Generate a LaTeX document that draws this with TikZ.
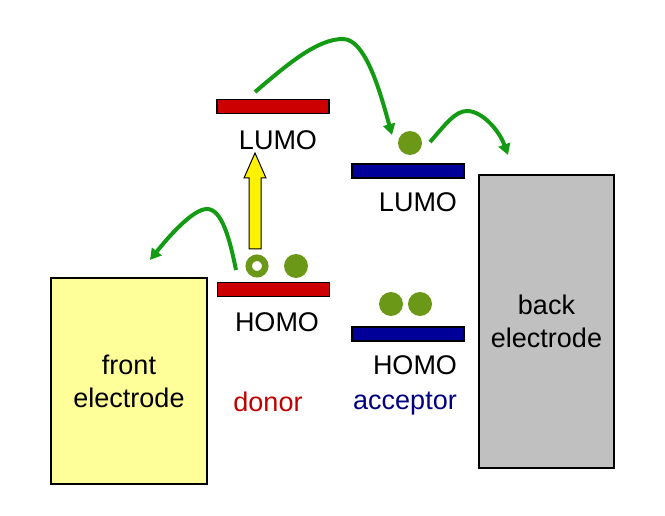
\documentclass[tikz,border=0pt]{standalone}
\usepackage{fontspec}
\setmainfont{Liberation Sans}
\usetikzlibrary{arrows.meta}
\definecolor{barred}{RGB}{204,0,0}
\definecolor{barblue}{RGB}{0,0,153}
\definecolor{dotgreen}{RGB}{108,152,24}
\definecolor{arrgreen}{RGB}{20,155,20}
\definecolor{frontyellow}{RGB}{255,255,153}
\definecolor{backgray}{RGB}{192,192,192}
\definecolor{donortext}{RGB}{192,0,0}
\definecolor{acctext}{RGB}{0,0,128}
\tikzset{
  level/.style={draw=black, line width=1.5pt, inner sep=0pt, outer sep=0pt, minimum width=112pt, minimum height=14pt},
  electrode/.style={draw=black, line width=1.2pt, inner sep=0pt, outer sep=0pt, align=center, font=\fontsize{27}{33}\selectfont},
  lbl/.style={font=\fontsize{27}{32}\selectfont, inner sep=0pt},
  dot/.style={circle, fill=dotgreen, inner sep=0pt, minimum size=24pt},
  hop/.style={draw=arrgreen, line width=4pt, -{Triangle[length=11pt,width=12pt]}},
}
\begin{document}
\begin{tikzpicture}[x=1pt,y=-1pt]
\useasboundingbox (0,0) rectangle (665,516);
% electrodes
\node[electrode, fill=frontyellow, minimum width=156pt, minimum height=206pt] (front) at (129,381) {front\\electrode};
\node[electrode, fill=backgray, minimum width=135pt, minimum height=293pt] (back) at (546.5,321.5) {back\\electrode};
% levels
\node[level, fill=barred] (dlumo) at (273,106.5) {};
\node[level, fill=barred] (dhomo) at (273.5,289.5) {};
\node[level, fill=barblue] (alumo) at (408,171) {};
\node[level, fill=barblue] (ahomo) at (408,334) {};
% labels
\node[lbl] (dlumol) at (278,140) {LUMO};
\node[lbl] (dhomol) at (277,322) {HOMO};
\node[lbl] (alumol) at (418,202) {LUMO};
\node[lbl] (ahomol) at (415,365) {HOMO};
\node[lbl, text=donortext] (donor) at (268,402) {donor};
\node[lbl, text=acctext] (acceptor) at (405,404) {acceptor};
% charges
\node[circle, draw=dotgreen, fill=white, line width=6.5pt, inner sep=0pt, minimum size=16.5pt] (hole) at (257,266) {};
\node[dot] (edonor) at (296,266) {};
\node[dot] (eacc) at (410,143) {};
\node[dot] (h1) at (391,304) {};
\node[dot] (h2) at (420,304) {};
% excitation arrow
\draw[fill=yellow, draw=black, line width=1pt]
  (249,249) -- (249,178) -- (244,178) -- (255,153) -- (266,178) -- (261,178) -- (261,249) -- cycle;
% hopping arrows
\coordinate (a1s) at (255,92);
\coordinate (a1p) at (343,39);
\coordinate (a1e) at (392,135);
\draw[hop] (a1s) .. controls (290,62) and (318,39) .. (a1p) .. controls (366,39) and (381,95) .. (a1e);
\coordinate (a2s) at (430,142);
\coordinate (a2p) at (467,111);
\coordinate (a2e) at (508,155);
\draw[hop] (a2s) .. controls (445,125) and (455,111) .. (a2p) .. controls (482,111) and (499,130) .. (a2e);
\coordinate (a3s) at (236,270);
\coordinate (a3p) at (207,209);
\coordinate (a3e) at (150,260);
\draw[hop] (a3s) .. controls (230,240) and (222,209) .. (a3p) .. controls (192,209) and (166,240) .. (a3e);
\end{tikzpicture}
\end{document}
